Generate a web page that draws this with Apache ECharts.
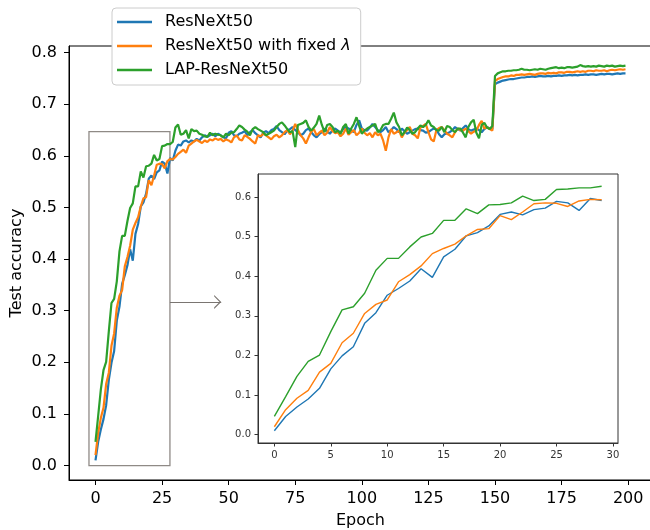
<!DOCTYPE html>
<html>
<head>
<meta charset="utf-8">
<script src="https://cdn.jsdelivr.net/npm/echarts@6/dist/echarts.min.js"></script>
<style>html,body{margin:0;padding:0;background:#fff}#c{width:650px;height:530px}</style>
</head>
<body>
<div id="c"></div>
<script>
// ---- data ----
const epochs = Array.from({length: 200}, (_, i) => i);
const seriesNames = ['ResNeXt50', 'ResNeXt50 with fixed λ', 'LAP-ResNeXt50'];
const resnext50 = [
  0.010,0.046,0.070,0.090,0.117,0.166,0.199,0.222,0.281,0.308,
  0.352,0.369,0.388,0.419,0.397,0.449,0.468,0.502,0.510,0.527,
  0.556,0.562,0.555,0.568,0.572,0.589,0.585,0.566,0.596,0.591,
  0.610,0.622,0.620,0.628,0.630,0.626,0.630,0.628,0.633,0.630,
  0.636,0.640,0.637,0.640,0.643,0.638,0.643,0.640,0.636,0.634,
  0.645,0.648,0.640,0.638,0.643,0.645,0.648,0.640,0.646,0.650,
  0.644,0.640,0.636,0.645,0.648,0.644,0.650,0.652,0.658,0.650,
  0.646,0.642,0.649,0.652,0.656,0.650,0.646,0.640,0.643,0.650,
  0.653,0.646,0.640,0.636,0.642,0.646,0.653,0.648,0.643,0.650,
  0.653,0.649,0.645,0.652,0.656,0.653,0.650,0.646,0.660,0.669,
  0.653,0.650,0.649,0.655,0.662,0.656,0.650,0.646,0.650,0.656,
  0.646,0.650,0.656,0.652,0.646,0.653,0.648,0.643,0.646,0.649,
  0.652,0.653,0.650,0.649,0.645,0.646,0.650,0.653,0.651,0.642,
  0.636,0.642,0.644,0.646,0.650,0.656,0.652,0.649,0.654,0.659,
  0.652,0.649,0.651,0.653,0.650,0.646,0.652,0.656,0.653,0.652,
  0.739,0.742,0.744,0.746,0.747,0.748,0.749,0.749,0.750,0.751,
  0.752,0.752,0.753,0.753,0.754,0.753,0.754,0.755,0.754,0.754,
  0.755,0.754,0.755,0.755,0.756,0.755,0.756,0.756,0.757,0.756,
  0.757,0.756,0.757,0.757,0.758,0.757,0.758,0.758,0.757,0.758,
  0.759,0.758,0.759,0.759,0.758,0.759,0.760,0.759,0.760,0.760
];
const resnext50Fixed = [
  0.020,0.063,0.092,0.112,0.158,0.180,0.232,0.256,0.306,0.329,
  0.340,0.386,0.404,0.426,0.457,0.470,0.481,0.502,0.518,0.520,
  0.553,0.543,0.562,0.583,0.585,0.584,0.576,0.590,0.594,0.593,
  0.598,0.604,0.608,0.612,0.606,0.620,0.624,0.628,0.631,0.628,
  0.625,0.630,0.627,0.632,0.630,0.634,0.631,0.633,0.628,0.632,
  0.630,0.626,0.636,0.640,0.632,0.630,0.640,0.637,0.633,0.628,
  0.624,0.640,0.638,0.643,0.640,0.636,0.632,0.638,0.641,0.636,
  0.640,0.646,0.650,0.642,0.649,0.662,0.650,0.640,0.634,0.624,
  0.636,0.647,0.652,0.640,0.645,0.649,0.640,0.645,0.656,0.648,
  0.644,0.646,0.638,0.643,0.653,0.641,0.646,0.650,0.640,0.645,
  0.653,0.645,0.640,0.644,0.636,0.646,0.640,0.643,0.630,0.610,
  0.636,0.652,0.643,0.646,0.649,0.636,0.645,0.650,0.656,0.643,
  0.640,0.634,0.655,0.658,0.662,0.646,0.632,0.628,0.650,0.654,
  0.656,0.650,0.643,0.640,0.636,0.646,0.653,0.650,0.649,0.653,
  0.648,0.643,0.647,0.649,0.660,0.668,0.653,0.656,0.652,0.649,
  0.745,0.749,0.751,0.753,0.754,0.754,0.756,0.755,0.757,0.757,
  0.758,0.757,0.758,0.759,0.758,0.757,0.759,0.760,0.760,0.759,
  0.761,0.760,0.761,0.760,0.762,0.762,0.761,0.763,0.763,0.762,
  0.763,0.764,0.763,0.764,0.763,0.765,0.765,0.764,0.766,0.765,
  0.765,0.766,0.764,0.766,0.767,0.766,0.767,0.768,0.767,0.768
];
const lapResnext50 = [
  0.046,0.096,0.147,0.185,0.201,0.260,0.315,0.323,0.357,0.415,
  0.445,0.445,0.474,0.499,0.508,0.541,0.541,0.570,0.558,0.580,
  0.581,0.585,0.602,0.591,0.594,0.619,0.620,0.623,0.623,0.627,
  0.655,0.661,0.641,0.643,0.650,0.634,0.652,0.648,0.649,0.643,
  0.641,0.638,0.637,0.645,0.640,0.643,0.641,0.640,0.636,0.643,
  0.640,0.645,0.646,0.652,0.659,0.656,0.651,0.647,0.640,0.652,
  0.656,0.652,0.649,0.646,0.640,0.643,0.646,0.649,0.656,0.662,
  0.665,0.659,0.652,0.646,0.648,0.617,0.660,0.662,0.664,0.669,
  0.656,0.649,0.655,0.662,0.678,0.660,0.646,0.660,0.662,0.656,
  0.646,0.649,0.643,0.656,0.662,0.643,0.653,0.662,0.675,0.658,
  0.643,0.649,0.653,0.656,0.659,0.662,0.646,0.650,0.660,0.662,
  0.662,0.672,0.684,0.665,0.656,0.640,0.646,0.655,0.650,0.643,
  0.646,0.653,0.659,0.656,0.660,0.669,0.659,0.656,0.650,0.649,
  0.656,0.646,0.658,0.656,0.650,0.646,0.653,0.653,0.645,0.636,
  0.656,0.665,0.670,0.645,0.634,0.660,0.664,0.655,0.652,0.658,
  0.755,0.760,0.762,0.764,0.764,0.765,0.765,0.766,0.766,0.767,
  0.769,0.767,0.767,0.766,0.767,0.768,0.767,0.769,0.768,0.767,
  0.769,0.770,0.771,0.772,0.770,0.771,0.770,0.772,0.772,0.771,
  0.772,0.773,0.776,0.774,0.773,0.774,0.773,0.774,0.773,0.775,
  0.774,0.773,0.775,0.774,0.775,0.773,0.774,0.775,0.774,0.775
];
const insetEpochCount = 30;
const mainXTicks = [0, 25, 50, 75, 100, 125, 150, 175, 200];
const mainYTicks = [0, 0.1, 0.2, 0.3, 0.4, 0.5, 0.6, 0.7, 0.8];
const insetXTicks = [0, 5, 10, 15, 20, 25, 30];
const insetYTicks = [0, 0.1, 0.2, 0.3, 0.4, 0.5, 0.6];
// zoom-region box (data coords) and arrow
const zoomBoxX = [-2.45, 27.95];
const zoomBoxY = [0, 0.647];
const arrowX = [27.95, 47.2];
const arrowY = 0.317;

const colors = ['#1f77b4', '#ff7f0e', '#2ca02c'];
const allSeries = [resnext50, resnext50Fixed, lapResnext50];
const FONT = 'DejaVu Sans';

const chart = echarts.init(document.getElementById('c'), null, {renderer: 'canvas'});

function axisCommon(grid, min, max, ticks, fontSize, color, labelMargin, tickLen, fmt) {
  return {
    type: 'value', gridIndex: grid, min: min, max: max,
    axisLine: {show: true, onZero: false, lineStyle: {color: color, width: 1}},
    splitLine: {show: false},
    axisTick: {show: true, inside: false, length: tickLen, customValues: ticks, lineStyle: {color: color, width: 1}},
    axisLabel: {show: true, customValues: ticks, fontSize: fontSize, color: color, fontFamily: FONT, margin: labelMargin, formatter: fmt}
  };
}

const series = [];
allSeries.forEach((arr, k) => {
  const s = {
    name: seriesNames[k], type: 'line', xAxisIndex: 0, yAxisIndex: 0,
    data: epochs.map((e, i) => [e, arr[i]]),
    showSymbol: false, symbol: 'none', color: colors[k],
    lineStyle: {width: 2.2, color: colors[k]},
    silent: true, z: 3
  };
  if (k === 0) {
    s.markArea = {
      silent: true,
      itemStyle: {color: 'rgba(0,0,0,0)', borderColor: '#8f8a86', borderWidth: 1.3},
      data: [[{coord: [zoomBoxX[0], zoomBoxY[0]]}, {coord: [zoomBoxX[1], zoomBoxY[1]]}]]
    };
    s.markLine = {
      silent: true,
      symbol: ['none', 'path://M6,6 L12,12 L10.6,12 L6,7.4 L1.4,12 L0,12 Z M0,0 L0.01,0 L0,0.01 Z'],
      symbolSize: 14,
      label: {show: false},
      lineStyle: {color: '#7a7571', width: 1, type: 'solid'},
      itemStyle: {color: '#7a7571'},
      data: [[{coord: [arrowX[0], arrowY]}, {coord: [arrowX[1], arrowY]}]]
    };
  }
  series.push(s);
});
allSeries.forEach((arr, k) => {
  series.push({
    name: seriesNames[k], type: 'line', xAxisIndex: 1, yAxisIndex: 1,
    data: epochs.slice(0, insetEpochCount).map((e, i) => [e, arr[i]]),
    showSymbol: false, symbol: 'none', color: colors[k],
    lineStyle: {width: 1.4, color: colors[k]},
    silent: true, z: 5
  });
});

const option = {
  animation: false,
  backgroundColor: '#fff',
  textStyle: {fontFamily: FONT},
  legend: {
    data: seriesNames,
    orient: 'vertical',
    left: 112, top: 8,
    padding: [6, 10, 7, 5],
    itemWidth: 35, itemHeight: 2.5, itemGap: 8,
    icon: 'rect',
    backgroundColor: '#fff', borderColor: '#cccccc', borderWidth: 1, borderRadius: 4,
    textStyle: {fontSize: 16, color: '#000', fontFamily: FONT, lineHeight: 16, padding: [0, 0, 0, 8],
      rich: {i: {fontStyle: 'italic', fontSize: 16, fontFamily: FONT, color: '#000', lineHeight: 16}}},
    formatter: function (name) { return name.replace('λ', '{i|λ}'); },
    selectedMode: false, z: 10
  },
  grid: [
    {left: 69, top: 46, width: 583, height: 434, show: true, borderColor: '#000', borderWidth: 1, backgroundColor: 'rgba(0,0,0,0)', containLabel: false, outerBoundsMode: 'none'},
    {left: 258, top: 174, width: 360, height: 269, show: true, borderColor: '#333', borderWidth: 1, backgroundColor: '#fff', containLabel: false, outerBoundsMode: 'none', z: 4}
  ],
  xAxis: [
    Object.assign(axisCommon(0, -9.95, 208.95, mainXTicks, 16, '#000', 11, 5, v => String(v)),
      {name: 'Epoch', nameLocation: 'middle', nameGap: 33, nameMoveOverlap: false, nameTextStyle: {fontSize: 16, color: '#000', fontFamily: FONT}}),
    Object.assign(axisCommon(1, -1.45, 30.45, insetXTicks, 10, '#333', 7, 3.5, v => String(v)), {z: 5})
  ],
  yAxis: [
    Object.assign(axisCommon(0, -0.028, 0.813, mainYTicks, 16, '#000', 12, 5, v => v.toFixed(1)),
      {name: 'Test accuracy', nameLocation: 'middle', nameGap: 44, nameRotate: 90, nameMoveOverlap: false, nameTextStyle: {fontSize: 16, color: '#000', fontFamily: FONT}}),
    Object.assign(axisCommon(1, -0.021, 0.658, insetYTicks, 10, '#333', 7, 3.5, v => v.toFixed(1)), {z: 5})
  ],
  series: series
};
chart.setOption(option);
</script>
</body>
</html>
